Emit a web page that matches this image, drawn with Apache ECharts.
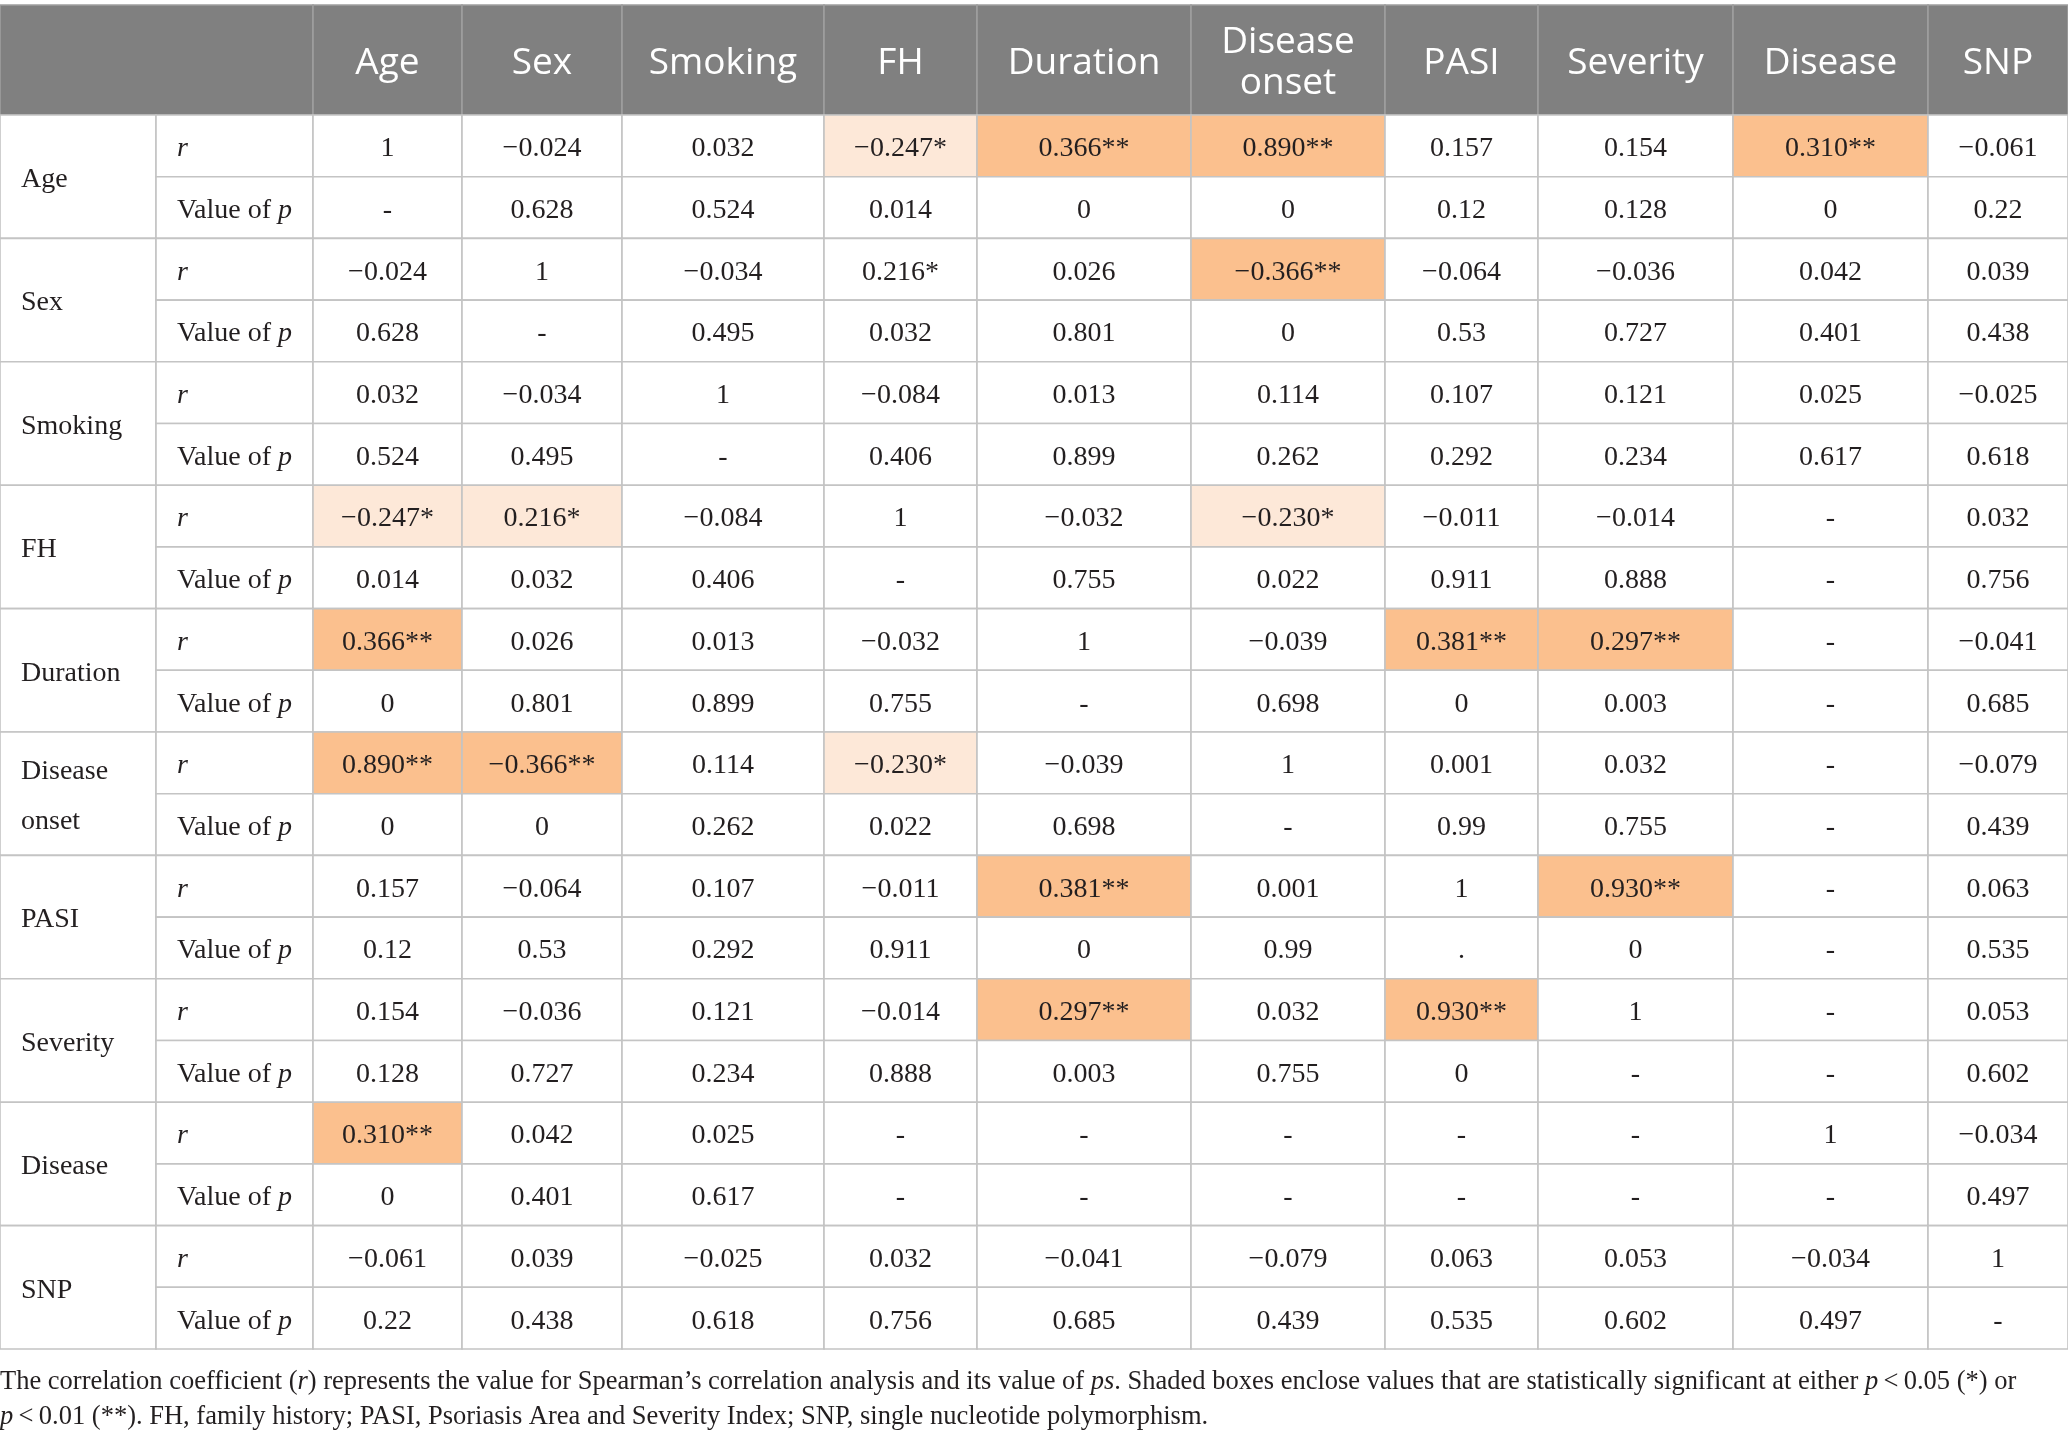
<!DOCTYPE html>
<html>
<head>
<meta charset="utf-8">
<title>Spearman correlation table</title>
<script src="https://cdn.jsdelivr.net/npm/echarts@6/dist/echarts.min.js"></script>
<style>
  html, body { margin: 0; padding: 0; background: #fff; }
  #main { width: 2068px; height: 1441px; }
</style>
</head>
<body>
<div id="main"></div>
<script>
var variables = ['Age', 'Sex', 'Smoking', 'FH', 'Duration', 'Disease\nonset', 'PASI', 'Severity', 'Disease', 'SNP'];
var headerLabels = ['Age', 'Sex', 'Smoking', 'FH', 'Duration', 'Disease\nonset', 'PASI', 'Severity', 'Disease', 'SNP'];

var rAge      = ['1', '\u22120.024', '0.032', '\u22120.247*', '0.366**', '0.890**', '0.157', '0.154', '0.310**', '\u22120.061'];
var pAge      = ['-', '0.628', '0.524', '0.014', '0', '0', '0.12', '0.128', '0', '0.22'];
var rSex      = ['\u22120.024', '1', '\u22120.034', '0.216*', '0.026', '\u22120.366**', '\u22120.064', '\u22120.036', '0.042', '0.039'];
var pSex      = ['0.628', '-', '0.495', '0.032', '0.801', '0', '0.53', '0.727', '0.401', '0.438'];
var rSmoking  = ['0.032', '\u22120.034', '1', '\u22120.084', '0.013', '0.114', '0.107', '0.121', '0.025', '\u22120.025'];
var pSmoking  = ['0.524', '0.495', '-', '0.406', '0.899', '0.262', '0.292', '0.234', '0.617', '0.618'];
var rFH       = ['\u22120.247*', '0.216*', '\u22120.084', '1', '\u22120.032', '\u22120.230*', '\u22120.011', '\u22120.014', '-', '0.032'];
var pFH       = ['0.014', '0.032', '0.406', '-', '0.755', '0.022', '0.911', '0.888', '-', '0.756'];
var rDuration = ['0.366**', '0.026', '0.013', '\u22120.032', '1', '\u22120.039', '0.381**', '0.297**', '-', '\u22120.041'];
var pDuration = ['0', '0.801', '0.899', '0.755', '-', '0.698', '0', '0.003', '-', '0.685'];
var rOnset    = ['0.890**', '\u22120.366**', '0.114', '\u22120.230*', '\u22120.039', '1', '0.001', '0.032', '-', '\u22120.079'];
var pOnset    = ['0', '0', '0.262', '0.022', '0.698', '-', '0.99', '0.755', '-', '0.439'];
var rPASI     = ['0.157', '\u22120.064', '0.107', '\u22120.011', '0.381**', '0.001', '1', '0.930**', '-', '0.063'];
var pPASI     = ['0.12', '0.53', '0.292', '0.911', '0', '0.99', '.', '0', '-', '0.535'];
var rSeverity = ['0.154', '\u22120.036', '0.121', '\u22120.014', '0.297**', '0.032', '0.930**', '1', '-', '0.053'];
var pSeverity = ['0.128', '0.727', '0.234', '0.888', '0.003', '0.755', '0', '-', '-', '0.602'];
var rDisease  = ['0.310**', '0.042', '0.025', '-', '-', '-', '-', '-', '1', '\u22120.034'];
var pDisease  = ['0', '0.401', '0.617', '-', '-', '-', '-', '-', '-', '0.497'];
var rSNP      = ['\u22120.061', '0.039', '\u22120.025', '0.032', '\u22120.041', '\u22120.079', '0.063', '0.053', '\u22120.034', '1'];
var pSNP      = ['0.22', '0.438', '0.618', '0.756', '0.685', '0.439', '0.535', '0.602', '0.497', '-'];

var rRows = [rAge, rSex, rSmoking, rFH, rDuration, rOnset, rPASI, rSeverity, rDisease, rSNP];
var pRows = [pAge, pSex, pSmoking, pFH, pDuration, pOnset, pPASI, pSeverity, pDisease, pSNP];

// the source leaves this starred cell unshaded (variable index, column index)
var unshaded = [[1, 3]];

// ---- layout (px) ----
var colWidths = [156, 157, 149, 160, 202, 153, 214, 194, 153, 195, 195, 140];
var headerH = 110, rowH = 61.7;

var colStart = [0];
colWidths.forEach(function (w, i) { colStart.push(colStart[i] + w); });
var rowStart = [0, headerH];
for (var k = 1; k <= 20; k++) rowStart.push(headerH + k * rowH);

var HEAD = '#808080', DARK = '#FBC08E', LIGHT = '#FDE8D8', LINE = '#C4C4C4', INK = '#231F20';
var serif = '"Liberation Serif", "DejaVu Serif", serif';
var sans = '"Open Sans", "Noto Sans", sans-serif';

// cells: c, r, cs, rs, text, kind
var cells = [];
cells.push({ c: 0, r: 0, cs: 2, rs: 1, text: '', kind: 'head' });
headerLabels.forEach(function (h, j) {
  cells.push({ c: j + 2, r: 0, cs: 1, rs: 1, text: h, kind: 'head' });
});
variables.forEach(function (v, i) {
  var r = 1 + i * 2;
  cells.push({ c: 0, r: r, cs: 1, rs: 2, text: v, kind: 'name' });
  cells.push({ c: 1, r: r, cs: 1, rs: 1, text: '{i|r}', kind: 'stat' });
  cells.push({ c: 1, r: r + 1, cs: 1, rs: 1, text: 'Value of {i|p}', kind: 'stat' });
  rRows[i].forEach(function (t, j) {
    var plain = unshaded.some(function (u) { return u[0] === i && u[1] === j; });
    cells.push({ c: j + 2, r: r, cs: 1, rs: 1, text: t, kind: 'val', plain: plain });
  });
  pRows[i].forEach(function (t, j) {
    cells.push({ c: j + 2, r: r + 1, cs: 1, rs: 1, text: t, kind: 'val' });
  });
});

function fillFor(cell) {
  if (cell.kind === 'head') return HEAD;
  if (cell.kind !== 'val' || cell.plain) return '#fff';
  if (cell.text.indexOf('**') >= 0) return DARK;
  if (cell.text.indexOf('*') >= 0) return LIGHT;
  return '#fff';
}

function renderItem(params, api) {
  var cell = cells[params.dataIndex];
  var c = api.value(0), r = api.value(1), cs = api.value(2), rs = api.value(3);
  var p0 = api.coord([colStart[c], rowStart[r]]);
  var p1 = api.coord([colStart[c + cs], rowStart[r + rs]]);
  var x = p0[0], y = p0[1], w = p1[0] - p0[0], h = p1[1] - p0[1];
  var head = cell.kind === 'head';
  var left = cell.kind === 'name' || cell.kind === 'stat';
  return {
    type: 'group',
    children: [{
      type: 'rect',
      shape: { x: x, y: y, width: w, height: h },
      style: { fill: fillFor(cell), stroke: head ? '#9E9E9E' : LINE, lineWidth: 1.6 }
    }, {
      type: 'text',
      x: left ? x + 21 : x + w / 2,
      y: y + h / 2 + 3,
      style: {
        text: cell.text,
        align: left ? 'left' : 'center',
        verticalAlign: 'middle',
        fill: head ? '#fff' : INK,
        font: head ? '37px ' + sans : '28px ' + serif,
        lineHeight: head ? 41 : (cell.kind === 'name' ? 50 : 30),
        rich: {
          i: { fontFamily: serif, fontStyle: 'italic', fontSize: 28, fill: INK }
        }
      }
    }]
  };
}

var chart = echarts.init(document.getElementById('main'));

var foot1 = 'The correlation coefficient ({i|r}) represents the value for Spearman\u2019s correlation analysis and its value of {i|ps}. Shaded boxes enclose values that are statistically significant at either {i|p}\u2009<\u20090.05 (*) or';
var foot2 = '{i|p}\u2009<\u20090.01 (**). FH, family history; PASI, Psoriasis Area and Severity Index; SNP, single nucleotide polymorphism.';

chart.setOption({
  animation: false,
  title: {
    text: foot1 + '\n' + foot2,
    left: -5,
    top: 1360,
    textStyle: {
      fontFamily: serif, fontSize: 26.5, fontWeight: 'normal', color: INK, lineHeight: 35,
      rich: { i: { fontFamily: serif, fontSize: 26.5, fontStyle: 'italic', color: INK, lineHeight: 35 } }
    }
  },
  grid: { left: 0, top: 5, width: 2068, height: rowStart[rowStart.length - 1] },
  xAxis: { type: 'value', min: 0, max: colStart[colStart.length - 1], show: false },
  yAxis: { type: 'value', min: 0, max: rowStart[rowStart.length - 1], inverse: true, show: false },
  series: [{
    type: 'custom',
    renderItem: renderItem,
    clip: false,
    data: cells.map(function (cl) { return [cl.c, cl.r, cl.cs, cl.rs]; })
  }]
});
</script>
</body>
</html>
